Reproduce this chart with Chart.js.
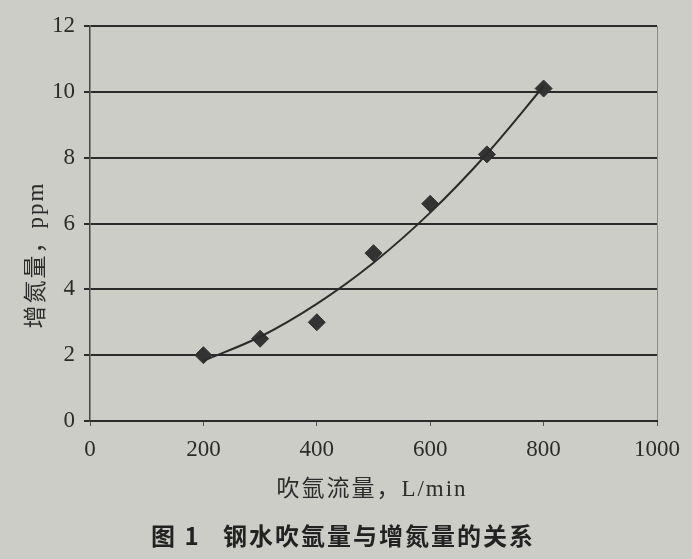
<!DOCTYPE html>
<html>
<head>
<meta charset="utf-8">
<script src="https://cdn.jsdelivr.net/npm/chart.js@4"></script>
<style>
  html, body { margin: 0; padding: 0; background: #cdcdc7; }
  #wrap { width: 692px; height: 559px; position: relative; }
</style>
</head>
<body>
<div id="wrap"><canvas id="myChart" width="692" height="559"></canvas></div>
<script>
// data
const flowRates = [200, 300, 400, 500, 600, 700, 800];
const nitrogenPickup = [2.0, 2.5, 3.0, 5.1, 6.6, 8.1, 10.1];
// trend curve as drawn in the figure
const trendX = [200, 300, 400, 500, 600, 700, 800];
const trendY = [1.83, 2.56, 3.56, 4.81, 6.33, 8.12, 10.17];
const xTicks = [0, 200, 400, 600, 800, 1000];
const yTicks = [0, 2, 4, 6, 8, 10, 12];

const ink = '#2b2b2b';
const serif = "'Liberation Serif', 'Noto Sans CJK SC', serif";

// y axis title, x axis title and caption, placed like the scan
const textPlugin = {
  id: 'texts',
  afterDraw(chart) {
    const c = chart.ctx;
    c.save();
    c.fillStyle = ink;
    c.textAlign = 'center';
    c.textBaseline = 'middle';
    c.translate(37, 255);
    c.rotate(-Math.PI / 2);
    c.font = "23px " + serif;
    c.letterSpacing = '2px';
    c.fillText('增氮量，ppm', 0, 0);
    c.restore();

    c.save();
    c.fillStyle = ink;
    c.textAlign = 'center';
    c.textBaseline = 'middle';
    c.font = "23px " + serif;
    c.letterSpacing = '2px';
    c.fillText('吹氩流量，L/min', 372, 490);
    c.fillStyle = '#222';
    c.font = "bold 24px 'Noto Sans CJK SC', sans-serif";
    c.letterSpacing = '2px';
    c.fillText('图 1   钢水吹氩量与增氮量的关系', 343, 536);
    c.restore();
  }
};

const ctx = document.getElementById('myChart');
new Chart(ctx, {
  type: 'scatter',
  data: {
    datasets: [{
      label: 'trend',
      type: 'line',
      data: trendX.map((x, i) => ({x: x, y: trendY[i]})),
      borderColor: ink,
      borderWidth: 2,
      pointRadius: 0,
      cubicInterpolationMode: 'monotone',
      fill: false
    }, {
      label: 'measured',
      data: flowRates.map((x, i) => ({x: x, y: nitrogenPickup[i]})),
      pointStyle: 'rectRot',
      pointRadius: 8.5,
      backgroundColor: '#333',
      borderColor: '#333'
    }]
  },
  options: {
    responsive: false,
    animation: false,
    layout: { padding: { left: 0, right: 35, top: 26, bottom: 93 } },
    plugins: { legend: { display: false }, tooltip: { enabled: false } },
    scales: {
      x: {
        type: 'linear', min: 0, max: 1000,
        afterBuildTicks: (s) => { s.ticks = xTicks.map(v => ({value: v})); },
        afterFit: (s) => { s.height = 45; },
        border: { color: ink, width: 2 },
        grid: {
          color: (c) => c.tick && c.tick.value === 1000 ? '#8a8a86' : 'transparent',
          tickColor: '#555', tickLength: 5, lineWidth: 1
        },
        ticks: {
          color: ink, font: { family: serif, size: 23 }, padding: 10,
          callback: (v) => String(v)
        }
      },
      y: {
        min: 0, max: 12,
        afterBuildTicks: (s) => { s.ticks = yTicks.map(v => ({value: v})); },
        afterFit: (s) => { s.width = 90; },
        border: { color: '#444', width: 1.5 },
        grid: { color: ink, lineWidth: 2, tickColor: ink, tickLength: 6 },
        ticks: { color: ink, font: { family: serif, size: 23 }, padding: 9 }
      }
    }
  },
  plugins: [textPlugin]
});
</script>
</body>
</html>
